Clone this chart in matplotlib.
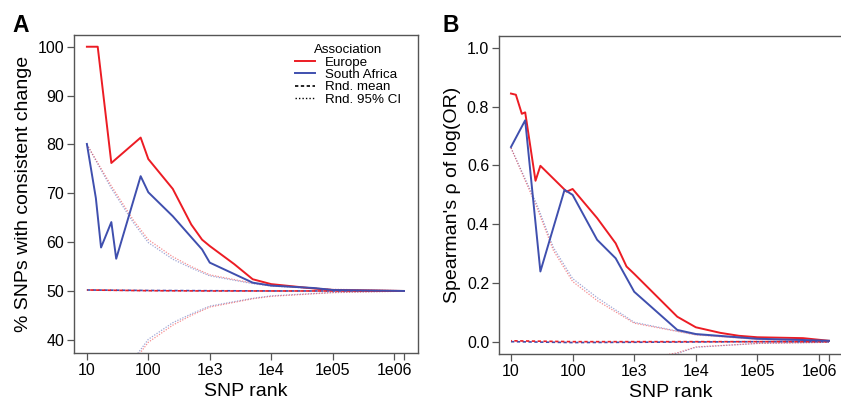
import numpy as np
import matplotlib as mpl
import matplotlib.pyplot as plt
from matplotlib.lines import Line2D

mpl.rcParams['font.family'] = ['Liberation Sans', 'DejaVu Sans']
mpl.rcParams['axes.edgecolor'] = '#555555'
mpl.rcParams['xtick.color'] = '#555555'
mpl.rcParams['ytick.color'] = '#555555'
mpl.rcParams['xtick.labelcolor'] = 'black'
mpl.rcParams['ytick.labelcolor'] = 'black'

RED = '#ec1c24'
BLUE = '#3f4fae'

# ---- panel A: % SNPs with consistent change ----
rank_eu_a = [10, 15, 25, 75, 100, 250, 500, 750, 1000, 2500, 5000, 10000, 50000, 100000, 1450000]
eu_a = [100, 100, 76.2, 81.4, 77.0, 70.9, 63.6, 60.5, 59.2, 55.5, 52.4, 51.4, 50.5, 50.2, 50.0]

rank_sa_a = [10, 14, 17, 25, 30, 75, 100, 250, 500, 750, 1000, 5000, 10000, 50000, 100000, 1450000]
sa_a = [80.1, 69, 58.9, 64.1, 56.6, 73.5, 70.2, 65.3, 61.0, 58.5, 55.8, 51.7, 51.1, 50.6, 50.2, 50.0]

rank_mean = [10, 100, 1000, 10000, 100000, 1450000]
mean_eu_a = [50.2, 50.05, 50.0, 50.0, 50.0, 50.0]
mean_sa_a = [50.2, 50.1, 50.05, 50.0, 50.0, 50.0]

rank_ci_a = [10, 25, 57, 100, 250, 500, 1000, 5000, 10000, 100000, 1450000]
ci_hi_eu_a = [80, 71.5, 64.5, 60.5, 57.0, 55.0, 53.3, 51.6, 51.1, 50.35, 50.05]
ci_hi_sa_a = [80, 71.0, 64.0, 59.9, 56.5, 54.7, 53.1, 51.5, 51.0, 50.3, 50.0]
ci_lo_eu_a = [20, 28.5, 35.5, 39.5, 43.0, 45.0, 46.7, 48.4, 48.9, 49.65, 49.95]
ci_lo_sa_a = [20, 29.0, 36.0, 40.1, 43.5, 45.3, 46.9, 48.5, 49.0, 49.7, 50.0]

# ---- panel B: Spearman's rho of log(OR) ----
rank_eu_b = [10, 12, 15, 17, 25, 30, 80, 100, 250, 500, 750, 1000, 5000, 10000, 25000, 50000, 100000, 550000, 1450000]
eu_b = [0.845, 0.841, 0.776, 0.781, 0.548, 0.599, 0.511, 0.520, 0.421, 0.335, 0.256, 0.231,
        0.085, 0.049, 0.030, 0.020, 0.015, 0.012, 0.003]

rank_sa_b = [10, 17, 30, 74, 100, 250, 500, 1000, 5000, 10000, 100000, 500000, 1450000]
sa_b = [0.663, 0.754, 0.239, 0.517, 0.500, 0.347, 0.284, 0.170, 0.040, 0.026, 0.010, 0.006, 0.003]

mean_eu_b = [0.003, 0.0, 0.0, 0.0, 0.0, 0.0]
mean_sa_b = [0.0, -0.003, -0.002, -0.001, 0.0, 0.0]

rank_ci_b = [10, 26, 49, 100, 250, 1000, 5000, 10000, 100000, 1450000]
ci_hi_eu_b = [0.66, 0.46, 0.31, 0.205, 0.14, 0.063, 0.035, 0.023, 0.008, 0.002]
ci_hi_sa_b = [0.66, 0.47, 0.32, 0.215, 0.15, 0.066, 0.036, 0.024, 0.008, 0.002]
ci_lo_eu_b = [-0.66, -0.46, -0.31, -0.205, -0.14, -0.063, -0.038, -0.018, -0.006, -0.002]
ci_lo_sa_b = [-0.66, -0.47, -0.32, -0.215, -0.15, -0.066, -0.040, -0.019, -0.006, -0.002]

xticks = [10, 100, 1e3, 1e4, 1e5, 1e6, 1450000]
xticklabels = ['10', '100', '1e3', '1e4', '1e05', '1e06', '']

fig = plt.figure(figsize=(8.41, 4.01), dpi=100)
axA = fig.add_axes([0.088, 0.1197, 0.409, 0.793])
axB = fig.add_axes([0.5933, 0.1172, 0.4091, 0.793])


def draw(ax, eu, sa, m_eu, m_sa, rci, hi_eu, hi_sa, lo_eu, lo_sa):
    kw_ci = dict(ls=(0, (1, 1.2)), lw=0.9, alpha=0.5)
    ax.plot(rci, hi_sa, color=BLUE, **kw_ci)
    ax.plot(rci, lo_sa, color=BLUE, **kw_ci)
    ax.plot(rci, hi_eu, color=RED, **kw_ci)
    ax.plot(rci, lo_eu, color=RED, **kw_ci)
    ax.plot(rank_mean, m_sa, color=BLUE, ls=(0, (2, 1.5)), lw=1.2)
    ax.plot(rank_mean, m_eu, color=RED, ls=(1.5, (2, 1.5)), lw=1.2)
    ax.plot(eu[0], eu[1], color=RED, lw=1.4)
    ax.plot(sa[0], sa[1], color=BLUE, lw=1.4)
    ax.set_xscale('log')
    ax.set_xticks(xticks)
    ax.set_xticklabels(xticklabels)
    ax.minorticks_off()
    ax.tick_params(labelsize=11.5, length=5, width=0.9, pad=2)
    ax.set_xlabel('SNP rank', fontsize=14, labelpad=3.5)
    for s in ax.spines.values():
        s.set_linewidth(1.0)


draw(axA, (rank_eu_a, eu_a), (rank_sa_a, sa_a), mean_eu_a, mean_sa_a,
     rank_ci_a, ci_hi_eu_a, ci_hi_sa_a, ci_lo_eu_a, ci_lo_sa_a)
axA.set_xlim(6.17, 2.45e6)
axA.set_ylim(37.3, 102.4)
axA.set_yticks([40, 50, 60, 70, 80, 90, 100])
axA.set_ylabel('% SNPs with consistent change', fontsize=14, labelpad=4)

draw(axB, (rank_eu_b, eu_b), (rank_sa_b, sa_b), mean_eu_b, mean_sa_b,
     rank_ci_b, ci_hi_eu_b, ci_hi_sa_b, ci_lo_eu_b, ci_lo_sa_b)
axB.set_xlim(6.38, 2.45e6)
axB.set_ylim(-0.042, 1.041)
axB.set_yticks([0.0, 0.2, 0.4, 0.6, 0.8, 1.0])
axB.set_yticklabels(['0.0', '0.2', '0.4', '0.6', '0.8', '1.0'])
axB.set_ylabel("Spearman's \u03c1 of log(OR)", fontsize=14, labelpad=4)

handles = [Line2D([], [], color=RED, lw=1.4),
           Line2D([], [], color=BLUE, lw=1.4),
           Line2D([], [], color='black', lw=1.2, ls=(0, (2, 1.5))),
           Line2D([], [], color='black', lw=1.0, ls=(0, (1, 1.5)))]
leg = axA.legend(handles, ['Europe', 'South Africa', 'Rnd. mean', 'Rnd. 95% CI'],
                 title='Association', loc='upper left', bbox_to_anchor=(0.615, 1.0),
                 frameon=False, fontsize=9.6, title_fontsize=9.6, handlelength=1.5,
                 handletextpad=0.75, labelspacing=0.0, borderpad=0.2)

fig.text(12 / 841, 1 - 25 / 401, 'A', fontsize=16.5, fontweight='bold', va='center', ha='left')
fig.text(443 / 841, 1 - 25 / 401, 'B', fontsize=16.5, fontweight='bold', va='center', ha='left')

fig.savefig('out.png', dpi=100)
